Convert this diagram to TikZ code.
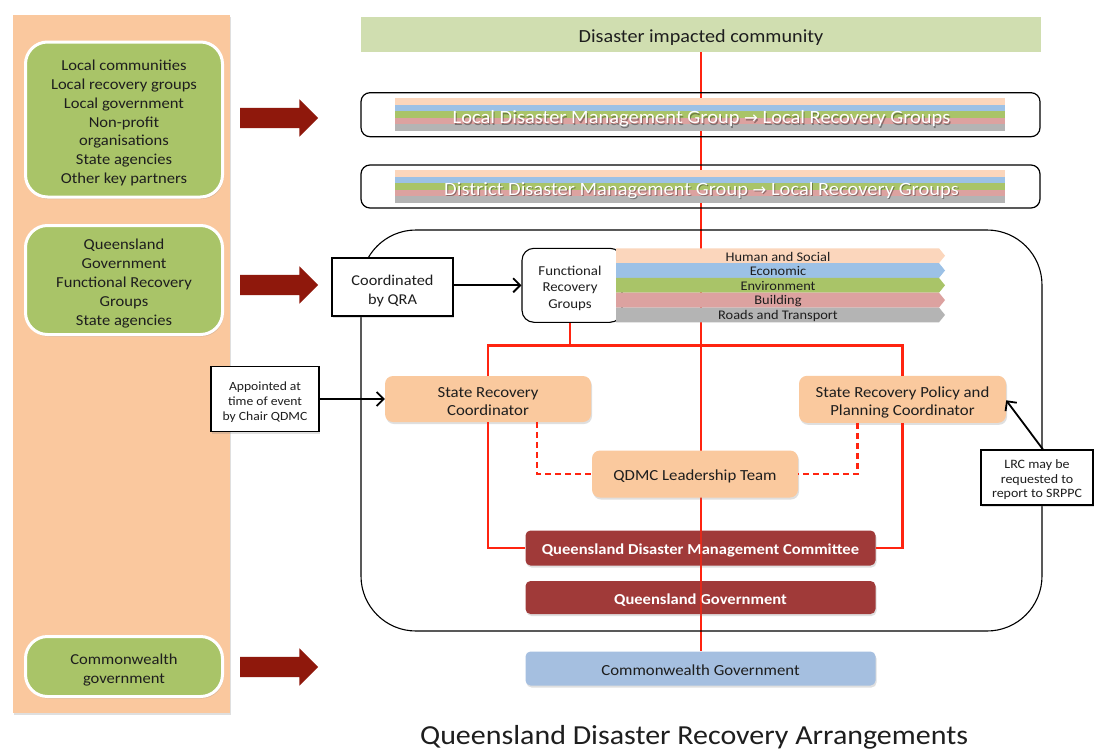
\documentclass[tikz,border=0pt]{standalone}
\usepackage{fontspec}
\setmainfont{Carlito}[FakeStretch=1.09]
\newfontfamily\arrowfont{DejaVu Sans}
\usetikzlibrary{shapes.arrows,shadows,arrows.meta,backgrounds}
\definecolor{panelc}{RGB}{250,200,158}
\definecolor{grn}{RGB}{169,196,104}
\definecolor{darkarrow}{RGB}{143,24,12}
\definecolor{topgrn}{RGB}{208,222,176}
\definecolor{qred}{RGB}{160,58,57}
\definecolor{cwblue}{RGB}{165,191,224}
\definecolor{orangebox}{RGB}{250,201,158}
\definecolor{linered}{RGB}{255,36,16}
\definecolor{sPeach}{RGB}{251,214,188}
\definecolor{sBlue}{RGB}{156,193,230}
\definecolor{sGreen}{RGB}{169,196,104}
\definecolor{sPink}{RGB}{220,162,160}
\definecolor{sGrey}{RGB}{180,180,180}
\definecolor{txt}{RGB}{30,30,30}
\newcommand\myfs[2]{\fontsize{#1}{#2}\selectfont}
\tikzset{
  every node/.style={inner sep=0pt, align=center, text=txt},
  softshadow/.style={drop shadow={shadow xshift=1pt, shadow yshift=-2pt, opacity=0.25}},
  panel/.style={fill=panelc, minimum width=217pt, minimum height=698pt, softshadow},
  greenbox/.style={rounded corners=22pt, fill=grn, draw=white, line width=3pt, minimum width=197pt, softshadow},
  gtext/.style={font=\myfs{15.2}{18.8}},
  bigarrow/.style={single arrow, fill=darkarrow, inner xsep=0pt, inner ysep=10pt, minimum height=78pt, single arrow head extend=8.5pt, single arrow head indent=0pt},
  topbar/.style={fill=topgrn, minimum width=680pt, minimum height=35pt},
  container/.style={draw=black, line width=1.1pt, rounded corners=55pt, minimum width=681pt, minimum height=401pt},
  stripbox/.style={draw=black, line width=1.2pt, rounded corners=9pt, minimum width=679pt},
  striptext/.style={text=white, font=\myfs{18.8}{22}},
  stripshadow/.style={text=black, opacity=0.35, font=\myfs{18.8}{22}},
  whitebox/.style={draw=black, line width=1.1pt, fill=white, softshadow},
  orangeb/.style={fill=orangebox, rounded corners=8pt, softshadow},
  otext/.style={font=\myfs{15.4}{18}},
  redb/.style={fill=qred, rounded corners=5pt, minimum width=350pt, softshadow},
  rtext/.style={text=white, font=\bfseries\myfs{15.2}{17}},
  bandtext/.style={font=\myfs{13.2}{15}},
  redline/.style={draw=linered, line width=2.6pt},
  reddash/.style={draw=linered, line width=2.6pt, dash pattern=on 6pt off 4pt},
  blkarrow/.style={draw=black, line width=1.8pt, -{Straight Barb[length=7pt,width=14pt]}},
}
\begin{document}
\begin{tikzpicture}[x=1pt,y=-1pt]
\useasboundingbox (0,0) rectangle (1101,753);

% left panel
\node[panel] (panel) at (121.5,364) {};
\node[greenbox, minimum height=155pt] (g1) at (124,119.5) {};
\node[gtext] (g1t) at ([yshift=-3.5pt]g1.center) {Local communities\\Local recovery groups\\Local government\\Non-profit\\organisations\\State agencies\\Other key partners};
\node[greenbox, minimum height=109pt] (g2) at (124,280) {};
\node[gtext] (g2t) at ([yshift=-3.5pt]g2.center) {Queensland\\Government\\Functional Recovery\\Groups\\State agencies};
\node[greenbox, minimum height=60pt] (g3) at (124,666.5) {};
\node[gtext] (g3t) at ([yshift=-3.5pt]g3.center) {Commonwealth\\government};
\node[bigarrow] (a1) at (274,118) {};
\node[bigarrow] (a2) at (274,285) {};
\node[bigarrow] (a3) at (274,667) {};

% top bar
\node[topbar] (top) at (701,34.5) {};
\node[font=\myfs{18.5}{22}] (topt) at ([yshift=-3pt]top.center) {Disaster impacted community};

% container
\node[container] (cont) at (701.5,430.5) {};

% LDMG and DDMG
\node[stripbox, minimum height=44pt] (ldmg) at (700.5,114.7) {};
\foreach \c [count=\i] in {sPeach,sBlue,sGreen,sPink,sGrey}
  \fill[\c] (395,{98.3+(\i-1)*6.5}) rectangle (1005,{98.3+\i*6.5});
\node[stripshadow] (ldmgs) at (702.5,120.5) {Local Disaster Management Group {\arrowfont\myfs{16.5}{18}→} Local Recovery Groups};
\node[striptext] (ldmgt) at (701.5,119) {Local Disaster Management Group {\arrowfont\myfs{16.5}{18}→} Local Recovery Groups};

\node[stripbox, minimum height=43pt] (ddmg) at (700.5,186.5) {};
\foreach \c [count=\i] in {sPeach,sBlue,sGreen,sPink,sGrey}
  \fill[\c] (395,{170+(\i-1)*6.5}) rectangle (1005,{170+\i*6.5});
\node[stripshadow] (ddmgs) at (702.5,192) {District Disaster Management Group {\arrowfont\myfs{16.5}{18}→} Local Recovery Groups};
\node[striptext] (ddmgt) at (701.5,190.5) {District Disaster Management Group {\arrowfont\myfs{16.5}{18}→} Local Recovery Groups};

% Functional recovery groups
\node[draw=black, line width=1.1pt, fill=white, rounded corners=12pt, minimum width=100pt, minimum height=74pt] (frg) at (572,285.3) {};
\node[font=\myfs{13.6}{16.5}] (frgt) at (570,288) {Functional\\Recovery\\Groups};
\foreach \c/\t [count=\i] in {sPeach/Human and Social,sBlue/Economic,sGreen/Environment,sPink/Building,sGrey/Roads and Transport}{
  \fill[\c] (616,{248.3+(\i-1)*14.8}) -- (939,{248.3+(\i-1)*14.8}) -- (945,{248.3+(\i-0.5)*14.8}) -- (939,{248.3+\i*14.8}) -- (616,{248.3+\i*14.8}) -- cycle;
  \node[bandtext] (band\i) at (778,{248.3+(\i-0.5)*14.8+0.8}) {\t};
}

% QRA
\node[whitebox, minimum width=121pt, minimum height=58pt] (qra) at (392.5,287) {};
\node[font=\myfs{15}{19}] (qrat) at ([yshift=-3.5pt]qra.center) {Coordinated\\by QRA};
\draw[blkarrow] (qra.east |- frg.west) -- (frg.west);

% coordinators
\node[orangeb, minimum width=206pt, minimum height=46pt] (src) at (488,399) {};
\node[otext] (srct) at ([yshift=-3pt]src.center) {State Recovery\\Coordinator};
\node[orangeb, minimum width=207pt, minimum height=47pt] (srppc) at (902.5,399.3) {};
\node[otext] (srppct) at ([yshift=-3pt]srppc.center) {State Recovery Policy and\\Planning Coordinator};
\node[orangeb, minimum width=206pt, minimum height=47pt] (qlt) at (695,474) {};
\node[otext] (qltt) at ([yshift=-2.5pt]qlt.center) {QDMC Leadership Team};

% side notes
\node[whitebox, minimum width=108pt, minimum height=65pt] (appt) at (265,399) {};
\node[font=\myfs{12.5}{15}] (apptt) at ([yshift=-3.5pt]appt.center) {Appointed at\\time of event\\by Chair QDMC};
\node[whitebox, minimum width=112pt, minimum height=55pt] (lrc) at (1037,477.5) {};
\node[font=\myfs{12.8}{14.5}] (lrct) at ([yshift=-2.5pt]lrc.center) {LRC may be\\requested to\\report to SRPPC};
\draw[blkarrow] (appt.east) -- (src.west);
\draw[blkarrow] ([xshift=6pt]lrc.north) -- ([yshift=-1pt]srppc.east);

% red committee boxes
\node[redb, minimum height=35pt] (qdmc) at (700.5,548) {};
\node[rtext] (qdmct) at ([yshift=-2.5pt]qdmc.center) {Queensland Disaster Management Committee};
\node[redb, minimum height=33pt] (qg) at (700.5,597.5) {};
\node[rtext] (qgt) at ([yshift=-2.5pt]qg.center) {Queensland Government};
\node[fill=cwblue, rounded corners=5pt, minimum width=350pt, minimum height=34pt, softshadow] (cw) at (700.5,668.5) {};
\node[font=\myfs{15.4}{17}] (cwt) at ([yshift=-1.5pt]cw.center) {Commonwealth Government};

% red lines
\begin{pgfonlayer}{background}
\fill[white] (0,0) rectangle (1101,753);
\draw[redline] (top.south) -- (top.south |- cw.north);
\end{pgfonlayer}
\draw[redline, opacity=0.7] (top.south |- qdmc.north) -- (top.south |- qg.south);
\coordinate (junL) at (488,345.5);
\coordinate (junR) at (902.5,345.5);
\draw[redline] (src.north) -- (junL) -- (junR) -- (srppc.north);
\draw[redline] (frg.south -| frgt.south) -- (frgt.south |- junL);
\draw[redline] (src.south) |- (qdmc.west);
\draw[redline] (srppc.south) |- (qdmc.east);
\draw[reddash] ([xshift=49pt]src.south) |- (qlt.west);
\draw[reddash] ([xshift=-45pt]srppc.south) |- (qlt.east);

% title
\node[font=\myfs{27.5}{31}] (title) at (694,737.5) {Queensland Disaster Recovery Arrangements};
\end{tikzpicture}
\end{document}
